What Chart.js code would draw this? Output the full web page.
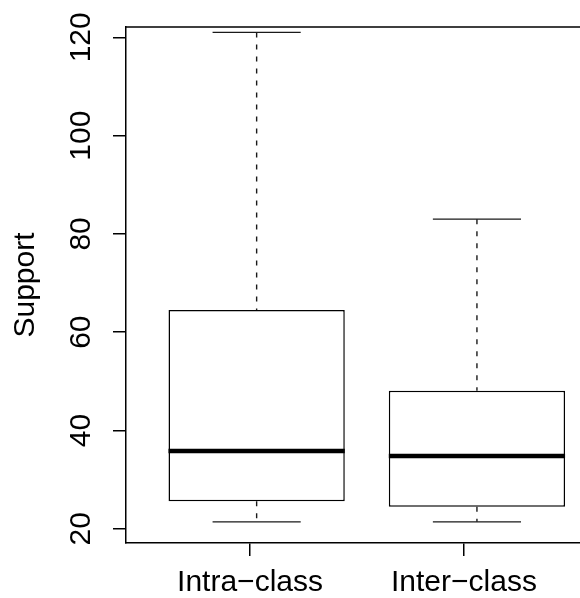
<!DOCTYPE html>
<html>
<head>
<meta charset="utf-8">
<script src="https://cdn.jsdelivr.net/npm/chart.js@4/dist/chart.umd.min.js"></script>
<style>
  html, body { margin: 0; padding: 0; background: #fff; overflow: hidden; }
  #wrap { width: 580px; height: 598px; overflow: hidden; }
</style>
</head>
<body>
<div id="wrap"><canvas id="myChart" width="610" height="598"></canvas></div>
<script>
'use strict'
// box plot summary
const categories = ['Intra−class', 'Inter−class']
const positions = [1, 2]
const whiskerLow = [21.4, 21.4]
const q1 = [25.6, 24.5]
const median = [35.8, 34.8]
const q3 = [64.5, 48.1]
const whiskerHigh = [121, 83]
const yTicks = [20, 40, 60, 80, 100, 120]

const FONT = 'Liberation Sans, Arial, Helvetica, sans-serif'

//whiskers, staples and medians drawn from the bar elements
const boxParts = {
  id: 'boxParts',
  afterDatasetsDraw(chart) {
    const { ctx, chartArea } = chart
    const y = chart.scales.y
    const bars = chart.getDatasetMeta(0).data
    ctx.save()
    bars.forEach((bar, i) => {
      const cx = bar.x
      const w = bar.width
      ctx.strokeStyle = '#1a1a1a'
      ctx.lineWidth = 1.4
      ctx.setLineDash([5, 7])
      ctx.beginPath()
      ctx.moveTo(cx, y.getPixelForValue(whiskerHigh[i]))
      ctx.lineTo(cx, y.getPixelForValue(q3[i]))
      ctx.moveTo(cx, y.getPixelForValue(q1[i]))
      ctx.lineTo(cx, y.getPixelForValue(whiskerLow[i]))
      ctx.stroke()
      ctx.setLineDash([])
      ctx.beginPath()
      ctx.moveTo(cx - w / 4, y.getPixelForValue(whiskerHigh[i]))
      ctx.lineTo(cx + w / 4, y.getPixelForValue(whiskerHigh[i]))
      ctx.moveTo(cx - w / 4, y.getPixelForValue(whiskerLow[i]))
      ctx.lineTo(cx + w / 4, y.getPixelForValue(whiskerLow[i]))
      ctx.stroke()
      ctx.strokeStyle = '#000'
      ctx.lineWidth = 4.5
      ctx.beginPath()
      ctx.moveTo(cx - w / 2, y.getPixelForValue(median[i]))
      ctx.lineTo(cx + w / 2, y.getPixelForValue(median[i]))
      ctx.stroke()
    })
    // frame (top and right)
    ctx.strokeStyle = '#000'
    ctx.lineWidth = 1.5
    ctx.beginPath()
    ctx.moveTo(chartArea.left, chartArea.top)
    ctx.lineTo(chartArea.right, chartArea.top)
    ctx.lineTo(chartArea.right, chartArea.bottom)
    ctx.stroke()
    ctx.restore()
  }
}

const ctx = document.getElementById('myChart').getContext('2d')
const myChart = new Chart(ctx, {
  type: 'bar',
  data: {
    datasets: [
      {
        label: 'Support',
        data: positions.map((p, i) => ({ x: p, y: [q1[i], q3[i]] })),
        backgroundColor: '#fff',
        borderColor: '#000',
        borderWidth: 1.5,
        borderSkipped: false,
        // bar ruler also counts the tick gap (214px), so widen a bit
        barPercentage: 0.824,
        categoryPercentage: 1,
      },
    ],
  },
  options: {
    responsive: false,
    animation: false,
    devicePixelRatio: 1,
    layout: { padding: { top: 27, left: 0, right: 0, bottom: 0 } },
    plugins: {
      legend: { display: false },
      tooltip: { enabled: false },
    },
    scales: {
      x: {
        type: 'linear',
        position: 'bottom',
        offset: false,
        min: 0.407,
        max: 2.604,
        afterBuildTicks: (scale) => {
          scale.ticks = [{ value: 0.97 }, { value: 1.941 }]
        },
        afterFit: (scale) => {
          scale.height = 55
        },
        ticks: {
          autoSkip: false,
          maxRotation: 0,
          padding: 9,
          color: '#000',
          font: { family: FONT, size: 30 },
          callback: (value, index) => categories[index],
        },
        grid: {
          offset: false,
          drawOnChartArea: false,
          tickLength: 13,
          color: '#000',
          lineWidth: 1.5,
        },
        border: { display: true, color: '#000', width: 1.5 },
      },
      y: {
        type: 'linear',
        min: 17.1,
        max: 122.1,
        afterBuildTicks: (scale) => {
          scale.ticks = yTicks.map((v) => ({ value: v }))
        },
        afterFit: (scale) => {
          scale.width = 126
        },
        ticks: {
          minRotation: 90,
          maxRotation: 90,
          crossAlign: 'center',
          padding: 6,
          color: '#000',
          font: { family: FONT, size: 30 },
        },
        grid: {
          drawOnChartArea: false,
          tickLength: 13,
          color: '#000',
          lineWidth: 1.5,
        },
        border: { display: true, color: '#000', width: 1.5 },
        title: {
          display: true,
          text: 'Support',
          color: '#000',
          font: { family: FONT, size: 30 },
          padding: { top: 8, bottom: 0 },
        },
      },
    },
  },
  plugins: [boxParts],
})
</script>
</body>
</html>
